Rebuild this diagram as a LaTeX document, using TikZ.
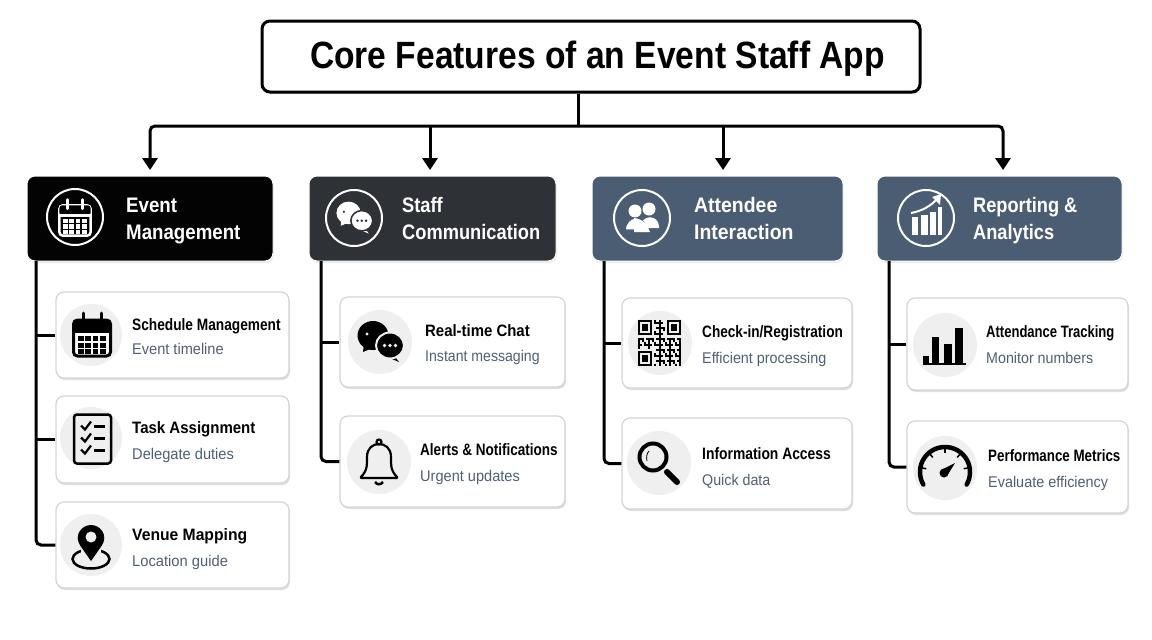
\documentclass[tikz,border=0pt]{standalone}
\usepackage{graphicx}
\usepackage{fontspec}
\setmainfont{Liberation Sans}
\usetikzlibrary{arrows.meta,shadows,calc}
\definecolor{hA}{HTML}{030303}
\definecolor{hB}{HTML}{2E3135}
\definecolor{hC}{HTML}{4A5D73}
\definecolor{subc}{HTML}{4F6075}
\definecolor{disc}{HTML}{EFEFEF}
\definecolor{edgec}{HTML}{D4D4D4}
\newcommand\sx[2]{\scalebox{#1}[1]{\strut #2}}
\tikzset{
  titlebox/.style={draw=black,line width=3pt,fill=white,rounded corners=8pt,inner sep=0pt,
    drop shadow={shadow xshift=1pt,shadow yshift=-2pt,opacity=.25}},
  headbox/.style={draw=white,line width=1pt,rounded corners=8pt,inner sep=0pt,minimum height=85pt,
    drop shadow={shadow xshift=1pt,shadow yshift=-2pt,opacity=.15}},
  cardbox/.style={draw=edgec,line width=1.2pt,fill=white,rounded corners=8pt,inner sep=0pt,
    drop shadow={shadow xshift=1pt,shadow yshift=-2pt,opacity=.25}},
  conn/.style={draw=black,line width=3pt},
  elbow/.style={rounded corners=5pt},
  arrowed/.style={-{Triangle[width=15pt,length=12pt]}},
  headtext/.style={inner sep=0pt,anchor=west,align=left,text=white,font=\fontsize{21}{27}\selectfont\bfseries},
  cardtitle/.style={inner sep=0pt,anchor=west,yshift=-2pt,text=black,font=\fontsize{16.5}{20}\selectfont\bfseries},
  cardsub/.style={inner sep=0pt,anchor=west,yshift=-1.5pt,text=subc,font=\fontsize{15.5}{20}\selectfont},
  ringnode/.style={draw=white,line width=2pt,circle,minimum size=56pt,inner sep=0pt},
  discnode/.style={fill=disc,circle,inner sep=0pt,minimum size=#1},
}
% calendar: x y scale fg bg bandfill
\newcommand\iconCal[6]{\begin{scope}[shift={(#1,#2)},scale=#3]
  \draw[draw=#4,fill=#5,line width=#3*3pt,rounded corners=#3*4pt] (-18.5,-15) rectangle (18.5,21);
  \fill[#6,rounded corners=#3*3pt] (-18.5,-15) rectangle (18.5,-3);
  \draw[draw=#4,line width=#3*2.5pt] (-18.5,-3) -- (18.5,-3);
  \draw[#4,line width=#3*3pt,line cap=round] (-9,-22) -- (-9,-11) (9,-22) -- (9,-11);
  \foreach \i in {0,1,2,3}\foreach \j in {0,1,2}
    \fill[#4] ({-14+\i*7.4},{1+\j*6.5}) rectangle ++(5.6,5);
\end{scope}}
% chat bubbles
\newcommand\iconChat[5]{\begin{scope}[shift={(#1,#2)},scale=#3]
  \fill[#4] (-7,-6.5) ellipse (15.5 and 14.5);
  \fill[#4] (-16,1) -- (-17,10) -- (-5,5) -- cycle;
  \fill[#5] (-13,-8) circle (1.6);
  \fill[#4] (13,12) -- (19,20) -- (7,15) -- cycle;
  \draw[draw=#5,fill=#4,line width=#3*2pt] (10,3.5) ellipse (14 and 13);
  \foreach \i in {-5.5,0,5.5} \fill[#5] ({10+\i},3.5) circle (1.8);
\end{scope}}
\begin{document}
\begin{tikzpicture}[x=1pt,y=-1pt]
\useasboundingbox (0,0) rectangle (1152,640);
\fill[white] (0,0) rectangle (1152,640);
% title
\node[titlebox,minimum width=658pt,minimum height=71pt] (title) at (591,56.5) {};
\node[inner sep=0pt,font=\fontsize{38}{44}\selectfont\bfseries] (titletext) at (597.5,59) {\scalebox{.884}[1]{Core Features of an Event Staff App}};
% headers
\node[headbox,fill=hA,minimum width=246pt] (h1) at (150,218.5) {};
\node[headbox,fill=hB,minimum width=247pt] (h2) at (432.5,218.5) {};
\node[headbox,fill=hC,minimum width=251pt] (h3) at (717.5,218.5) {};
\node[headbox,fill=hC,minimum width=245pt] (h4) at (999.5,218.5) {};
\node[ringnode] (r1) at (75,217) {};
\node[ringnode] (r2) at (354,218) {};
\node[ringnode] (r3) at (642,218) {};
\node[ringnode] (r4) at (926,218) {};
\node[headtext] (ht1) at (126,221) {\sx{.89}{Event}\\\sx{.89}{Management}};
\node[headtext] (ht2) at (402,221) {\sx{.87}{Staff}\\\sx{.87}{Communication}};
\node[headtext] (ht3) at (694,221) {\sx{.925}{Attendee}\\\sx{.925}{Interaction}};
\node[headtext] (ht4) at (973,221) {\sx{.867}{Reporting \&}\\\sx{.867}{Analytics}};
% cards
\node[cardbox,minimum width=233pt,minimum height=86pt] (c11) at (172.5,335) {};
\node[cardbox,minimum width=233pt,minimum height=87pt] (c12) at (172.5,439.5) {};
\node[cardbox,minimum width=233pt,minimum height=86pt] (c13) at (172.5,545) {};
\node[cardbox,minimum width=225pt,minimum height=90pt] (c21) at (452.5,342) {};
\node[cardbox,minimum width=225pt,minimum height=91pt] (c22) at (452.5,461.5) {};
\node[cardbox,minimum width=230pt,minimum height=90pt] (c31) at (737,343) {};
\node[cardbox,minimum width=230pt,minimum height=91pt] (c32) at (737,463.5) {};
\node[cardbox,minimum width=221pt,minimum height=92pt] (c41) at (1017.5,344) {};
\node[cardbox,minimum width=221pt,minimum height=92pt] (c42) at (1017.5,467) {};
% discs
\node[discnode=62pt] (d11) at (91,335) {};
\node[discnode=62pt] (d12) at (91,438) {};
\node[discnode=62pt] (d13) at (91,545) {};
\node[discnode=64pt] (d21) at (380,342) {};
\node[discnode=64pt] (d22) at (379,462) {};
\node[discnode=64pt] (d31) at (660,343) {};
\node[discnode=64pt] (d32) at (659,463) {};
\node[discnode=64pt] (d41) at (945,345) {};
\node[discnode=64pt] (d42) at (945,468) {};
% card texts
\node[cardtitle] (t11) at (132,324) {\sx{.83}{Schedule Management}};
\node[cardsub] (s11) at (132,349) {\sx{.94}{Event timeline}};
\node[cardtitle] (t12) at (132,427.5) {\sx{.91}{Task Assignment}};
\node[cardsub] (s12) at (132,453.5) {\sx{.945}{Delegate duties}};
\node[cardtitle] (t13) at (132,534) {\sx{.95}{Venue Mapping}};
\node[cardsub] (s13) at (132,560.5) {\sx{.95}{Location guide}};
\node[cardtitle] (t21) at (425,330) {\sx{.905}{Real-time Chat}};
\node[cardsub] (s21) at (425,356) {\sx{.91}{Instant messaging}};
\node[cardtitle] (t22) at (420,449.5) {\sx{.82}{Alerts \& Notifications}};
\node[cardsub] (s22) at (420,475.5) {\sx{.94}{Urgent updates}};
\node[cardtitle] (t31) at (702,331) {\sx{.825}{Check-in/Registration}};
\node[cardsub] (s31) at (702,357.5) {\sx{.925}{Efficient processing}};
\node[cardtitle] (t32) at (702,453) {\sx{.84}{Information Access}};
\node[cardsub] (s32) at (702,479.5) {\sx{.92}{Quick data}};
\node[cardtitle] (t41) at (986,331) {\sx{.79}{Attendance Tracking}};
\node[cardsub] (s41) at (986,357.5) {\sx{.92}{Monitor numbers}};
\node[cardtitle] (t42) at (988,455) {\sx{.81}{Performance Metrics}};
\node[cardsub] (s42) at (988,481.5) {\sx{.93}{Evaluate efficiency}};
% connectors top
\coordinate (bus) at (578,126);
\coordinate (a1) at (150,170);
\coordinate (a2) at (430,170);
\coordinate (a3) at (723,170);
\coordinate (a4) at (1003,170);
\draw[conn] (title.south -| bus) -- (bus);
\draw[conn,elbow,arrowed] (bus) -| (a1);
\draw[conn,elbow,arrowed] (bus) -| (a4);
\draw[conn,arrowed] (bus -| a2) -- (a2);
\draw[conn,arrowed] (bus -| a3) -- (a3);
% connectors left
\coordinate (k1) at (36,261);
\coordinate (k2) at (321,261);
\coordinate (k3) at (604,261);
\coordinate (k4) at (889,261);
\draw[conn,elbow] (k1) |- (c13.west);
\draw[conn] (k1 |- c11.west) -- (c11.west);
\draw[conn] (k1 |- c12.west) -- (c12.west);
\draw[conn,elbow] (k2) |- (c22.west);
\draw[conn] (k2 |- c21.west) -- (c21.west);
\draw[conn,elbow] (k3) |- (c32.west);
\draw[conn] (k3 |- c31.west) -- (c31.west);
\draw[conn,elbow] (k4) |- (c42.west);
\draw[conn] (k4 |- c41.west) -- (c41.west);
% header icons
\iconCal{75}{218}{0.84}{white}{hA}{hA}
\iconChat{354}{218}{0.78}{white}{hB}
% people
\begin{scope}[shift={(642,218)}]
  \fill[white] (7,-9) circle (6.5);
  \fill[white] (0,5) .. controls (2,-3) and (16,-3) .. (17,8) -- (17,10) -- (4,10) -- cycle;
  \fill[white] (-7,-7) circle (6.5);
  \draw[draw=hC,fill=white,line width=1.2pt] (-17,12) .. controls (-15,-3) and (-1,-3) .. (4,8) -- (6,14) -- (-2,14) .. controls (-4,12) .. (-6,12) -- cycle;
  \fill[white] (-8,0) .. controls (2,1) and (6,8) .. (8,14) -- (-8,14) -- cycle;
\end{scope}
% rising chart
\begin{scope}[shift={(926,218)}]
  \fill[white] (-14,-1) rectangle (-8,17);
  \fill[white] (-5,-3) rectangle (2,17);
  \fill[white] (4,-6) rectangle (10,17);
  \fill[white] (12,-11) rectangle (16,17);
  \draw[white,line width=2pt] (-15,-5) .. controls (-4,-7) and (5,-12) .. (12,-20);
  \fill[white] (15,-24) -- (14,-13) -- (6,-21) -- cycle;
\end{scope}
% card icons
\iconCal{92}{335}{1}{black}{white}{black}
\begin{scope}[shift={(92,438.5)}]
  \draw[line width=2.5pt,rounded corners=3pt] (-18,-24) rectangle (19,25);
  \foreach \yy in {-12,0,12}{
    \draw[line width=2.2pt] (-11,{\yy-1}) -- (-7,{\yy+3}) -- (-1,{\yy-5});
    \draw[line width=2.5pt] (2,\yy) -- (13,\yy);}
\end{scope}
\begin{scope}[shift={(91,545)}]
  \draw[line width=2.5pt] (0,14) ellipse (18.5 and 9.5);
  \fill[disc] (-10,4) rectangle (10,13);
  \fill[black] (0,16) -- (-10.5,1) .. controls (-18,-10) and (-9,-20) .. (0,-20) .. controls (9,-20) and (18,-10) .. (10.5,1) -- cycle;
  \fill[disc] (0,-8) circle (5.5);
\end{scope}
\iconChat{380}{342}{1}{black}{disc}
% bell
\begin{scope}[shift={(379,460)}]
  \draw[line width=2.2pt,line join=round] (-18,18) -- (-18,17) .. controls (-11,10) and (-12,3) .. (-12,-3) .. controls (-12,-12) and (-6,-16) .. (0,-16) .. controls (6,-16) and (12,-12) .. (12,-3) .. controls (12,3) and (11,10) .. (18,17) -- (18,18) -- cycle;
  \draw[line width=2.2pt] (0,-18) circle (2.5);
  \draw[line width=2.5pt] (-4,22) .. controls (-2,25) and (2,25) .. (4,22);
\end{scope}
% QR
\begin{scope}[shift={(638,320)},x=2.05pt,y=-2.2pt]
  \foreach \cx/\cy in {0/0,14/0,0/14}{
    \draw[line width=2pt] (\cx+0.5,\cy+0.5) rectangle (\cx+6.5,\cy+6.5);
    \fill (\cx+2,\cy+2) rectangle (\cx+5,\cy+5);}
  \foreach \i in {0,...,20}\foreach \j in {0,...,20}{
    \pgfmathtruncatemacro\inA{(\i<8 && \j<8) || (\i>12 && \j<8) || (\i<8 && \j>12) ? 1 : 0}
    \pgfmathtruncatemacro\on{mod(\i*\i*3+\j*\j*5+\i*\j*7+\i,5)<2 ? 1 : 0}
    \ifnum\inA=0 \ifnum\on=1 \fill (\i,\j) rectangle ++(1,1); \fi\fi}
\end{scope}
% magnifier
\begin{scope}[shift={(659,463)}]
  \draw[line width=6pt,line cap=round] (8,9) -- (18,19);
  \draw[line width=4pt] (-6,-6) circle (13.5);
  \draw[line width=.8pt] (-12,-2) .. controls (-13,-6) and (-12,-10) .. (-10,-12);
\end{scope}
% bars
\begin{scope}[shift={(945,345)}]
  \fill (-22,11) rectangle (-16,19);
  \fill (-13,-8) rectangle (-6,19);
  \fill (-1,-1) rectangle (7,19);
  \fill (10,-17) rectangle (18,19);
  \draw[line width=1.5pt] (-22,19) -- (21,19);
\end{scope}
% gauge
\begin{scope}[shift={(945,472)}]
  \draw[line width=4.5pt,line cap=round] plot[domain=150:390,samples=50,smooth] ({25*cos(\x)},{25*sin(\x)});
  \foreach \a in {190,230,270,310,350}
    \draw[line width=1.5pt] ({25*cos(\a)},{25*sin(\a)}) -- ({19*cos(\a)},{19*sin(\a)});
  \fill (-1,1) circle (4.5);
  \fill (-4,-2) -- (10,-9) -- (2,4) -- cycle;
\end{scope}
\end{tikzpicture}
\end{document}
